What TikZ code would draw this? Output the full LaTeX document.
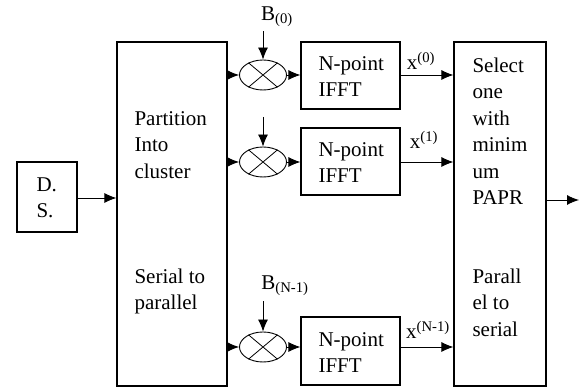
\documentclass[tikz,border=0pt]{standalone}
\usepackage{fontspec}
\setmainfont{Liberation Serif}
\usepackage{tikz}
\usetikzlibrary{positioning,shapes.geometric,arrows.meta}

\begin{document}
\begin{tikzpicture}[x=1pt, y=-1pt,
    box/.style={draw, line width=1.1pt, inner sep=0pt},
    mixer/.style={draw, ellipse, line width=0.9pt, minimum width=47pt, minimum height=30pt, inner sep=0pt},
    txt/.style={align=left, font=\fontsize{21}{26.5}\selectfont},
    arrow/.style={-{Latex[length=12pt, width=10pt]}, line width=0.9pt},
    siglabel/.style={font=\fontsize{21}{24}\selectfont, inner sep=0pt}
  ]
    \useasboundingbox (0,0) rectangle (579,387);

    % blocks
    \node[box, minimum width=60pt, minimum height=70pt] (ds) at (47,197) {};
    \node[box, minimum width=110pt, minimum height=344pt] (part) at (172,214) {};
    \node[box, minimum width=92pt, minimum height=344pt] (sel) at (500,214) {};
    \node[box, minimum width=99pt, minimum height=67pt] (f0) at (350.5,75.5) {};
    \node[box, minimum width=99pt, minimum height=67pt] (f1) at (350.5,161.5) {};
    \node[box, minimum width=99pt, minimum height=68pt] (f2) at (350.5,351) {};

    % text
    \node[txt, anchor=north west] (dstxt) at (33,174) {D.\\S.};
    \node[txt, anchor=north west] (parttxt) at (131,108) {Partition\\Into\\cluster};
    \node[txt, anchor=north west] (s2p) at (131,265) {Serial to\\parallel};
    \node[txt, anchor=north west] (seltxt) at (469,54) {Select\\one\\with\\minim\\um\\PAPR};
    \node[txt, anchor=north west] (p2s) at (469,265) {Parall\\el to\\serial};
    \node[txt, anchor=north west] (f0txt) at (315,53) {N-point\\IFFT};
    \node[txt, anchor=north west] (f1txt) at (315,139) {N-point\\IFFT};
    \node[txt, anchor=north west] (f2txt) at (315,329) {N-point\\IFFT};

    % mixers
    \foreach \i/\y in {0/75, 1/162, 2/347} {
      \node[mixer] (m\i) at (263,\y) {};
      \draw[line width=0.8pt] (m\i.40) -- (m\i.220) (m\i.140) -- (m\i.320);
    }

    % weights
    \node[siglabel] (b0) at (277,17) {B\textsubscript{(0)}};
    \coordinate (b1) at (263,117);
    \node[siglabel] (b2) at (285,286) {B\textsubscript{(N-1)}};
    \draw[arrow] (b0.south -| m0.north) ++(0,4) -- (m0.north);
    \draw[arrow] (b1) -- (m1.north);
    \draw[arrow] (b2.south -| m2.north) ++(0,5) -- (m2.north);

    % signal flow
    \draw[arrow] (ds.east |- 0,198) -- (part.west |- 0,198);
    \foreach \i in {0,1,2} {
      \draw[arrow] (part.east |- m\i) -- (m\i.west);
      \draw[arrow] (m\i.east) -- (f\i.west |- m\i);
      \draw[arrow] (f\i.east |- m\i) -- (sel.west |- m\i);
    }
    \node[siglabel] (x0) at (421,61) {x\textsuperscript{(0)}};
    \node[siglabel] (x1) at (424,140) {x\textsuperscript{(1)}};
    \node[siglabel] (x2) at (428,330) {x\textsuperscript{(N-1)}};

    \coordinate (out) at (579,200);
    \draw[arrow] (sel.east |- out) -- (out);
  \end{tikzpicture}
\end{document}
